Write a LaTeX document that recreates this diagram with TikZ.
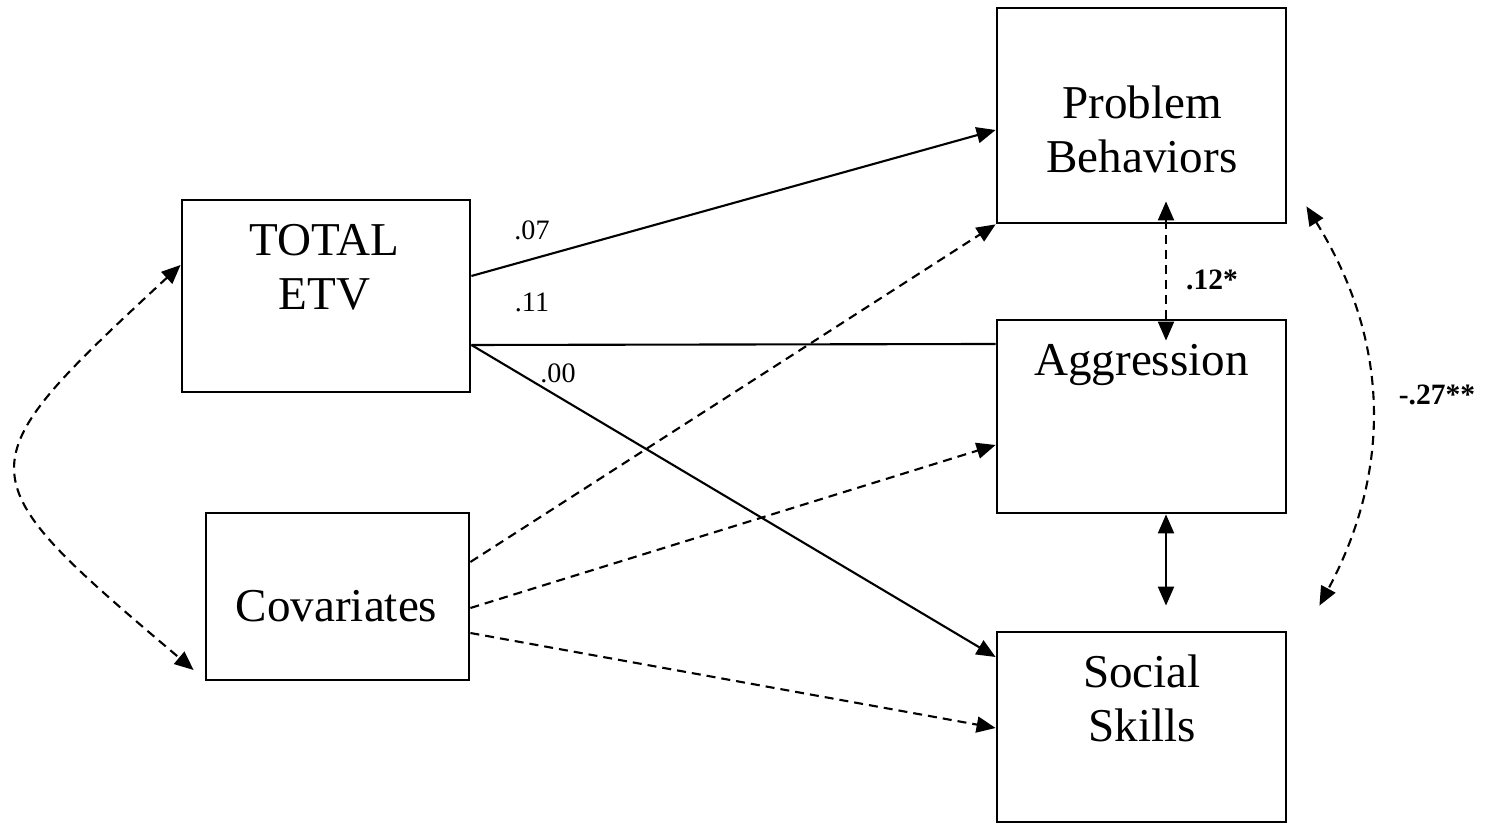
\documentclass[tikz,border=0pt]{standalone}
\usepackage{fontspec}
\setmainfont{Liberation Serif}
\usetikzlibrary{arrows.meta}

\begin{document}
\begin{tikzpicture}[x=1cm,y=-1cm,
        varbox/.style={draw, line width=0.8pt, inner sep=0pt},
        boxtext/.style={font=\fontsize{13.4}{15.6}\selectfont, align=center, anchor=base, inner sep=0pt},
        coef/.style={font=\fontsize{8}{9.6}\selectfont, anchor=base, inner sep=0pt},
        sigcoef/.style={font=\fontsize{8.4}{10}\selectfont\bfseries, anchor=base, inner sep=0pt},
        link/.style={line width=0.6pt},
        effect/.style={link, -{Triangle[length=1.9mm,width=1.6mm]}},
        control/.style={effect, dash pattern=on 0.9mm off 0.6mm},
        corr/.style={link, {Triangle[length=1.9mm,width=1.6mm]}-{Triangle[length=1.9mm,width=1.6mm]}},
        dashcorr/.style={corr, dash pattern=on 0.9mm off 0.6mm}]
        \useasboundingbox (0,0) rectangle (14.96,8.24);
        % Draw boxes
        \node[varbox, minimum width=2.88cm, minimum height=1.92cm] (etv) at (3.26,2.96) {};
        \node[varbox, minimum width=2.63cm, minimum height=1.67cm] (cov) at (3.375,5.965) {};
        \node[varbox, minimum width=2.89cm, minimum height=2.15cm] (prob) at (11.415,1.155) {};
        \node[varbox, minimum width=2.89cm, minimum height=1.93cm] (aggr) at (11.415,4.165) {};
        \node[varbox, minimum width=2.89cm, minimum height=1.90cm] (soc) at (11.415,7.27) {};
        % Box labels (base = last line)
        \node[boxtext] (etvtext) at (3.245,3.10) {TOTAL\\ETV};
        \node[boxtext] (covtext) at (3.365,6.22) {Covariates};
        \node[boxtext] (probtext) at (11.42,1.73) {Problem\\Behaviors};
        \node[boxtext] (aggrtext) at (11.415,3.76) {Aggression};
        \node[boxtext] (soctext) at (11.42,7.42) {Social\\Skills};
        % Paths from TOTAL ETV
        \draw[effect] ([yshift=2mm]etv.east) -- ([yshift=-1.45mm]prob.west);
        \draw[link] ([yshift=-4.9mm]etv.east) -- ([yshift=7.25mm]aggr.west);
        \draw[effect] ([yshift=-4.9mm]etv.east) -- ([yshift=7mm]soc.west);
        % Paths from covariates
        \draw[control] ([yshift=3.45mm]cov.east) -- (prob.south west);
        \draw[control] ([yshift=-1.15mm]cov.east) -- ([yshift=-2.85mm]aggr.west);
        \draw[control] ([yshift=-3.65mm]cov.east) -- ([yshift=-0.1mm]soc.west);
        % Correlations
        \draw[dashcorr] ([yshift=3.1mm]etv.west) .. controls (-0.39,4.69) and (-0.39,4.73) .. ([xshift=-1.1mm,yshift=-7.35mm]cov.west);
        \draw[dashcorr] ([xshift=2.45mm,yshift=2.3mm]prob.south) -- ([xshift=2.45mm,yshift=-2.2mm]aggr.north);
        \draw[corr] ([xshift=2.45mm]aggr.south) -- ([xshift=2.45mm,yshift=2.5mm]soc.north);
        \draw[dashcorr] ([xshift=1.9mm,yshift=1.8mm]prob.south east) to[bend left=30] ([xshift=3.2mm,yshift=2.5mm]soc.north east);
        % Coefficients
        \node[coef] (b1) at (5.32,2.40) {.07};
        \node[coef] (b2) at (5.32,3.12) {.11};
        \node[coef] (b3) at (5.58,3.83) {.00};
        \node[sigcoef] (r1) at (12.12,2.90) {.12*};
        \node[sigcoef] (r2) at (14.37,4.05) {-.27**};
    \end{tikzpicture}
\end{document}
